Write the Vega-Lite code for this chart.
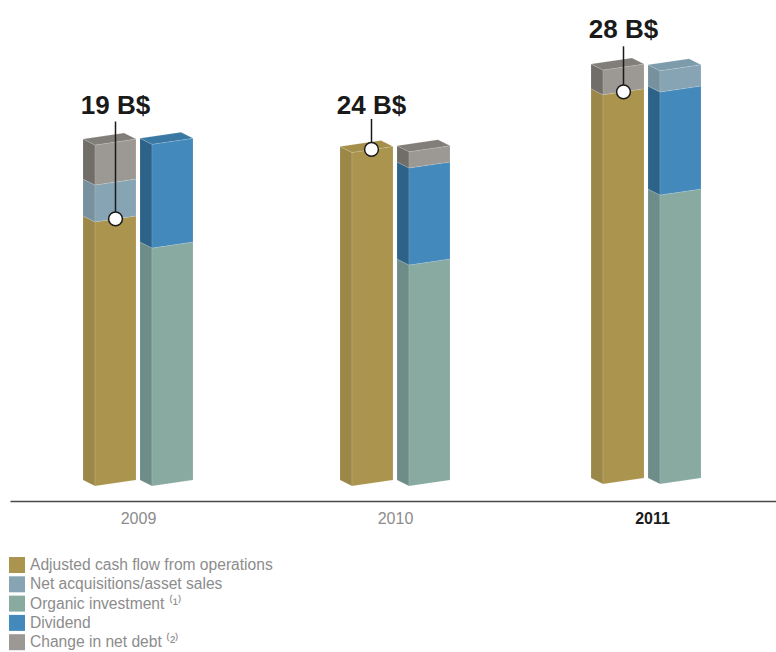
{
  "$schema": "https://vega.github.io/schema/vega-lite/v6.json",
  "width": 766,
  "height": 501,
  "padding": {"left": 10, "top": 0, "right": 0, "bottom": 151},
  "autosize": "none",
  "background": "white",
  "view": {"stroke": null},
  "config": {"font": "Liberation Sans"},
  "datasets": {
    "uses": [
      {"year": 2009, "col": "a", "segment": "Adjusted cash flow from operations", "start": 0, "end": 19},
      {"year": 2009, "col": "a", "segment": "Net acquisitions/asset sales", "start": 19, "end": 21.65},
      {"year": 2009, "col": "a", "segment": "Change in net debt ⁽²⁾", "start": 21.65, "end": 24.53},
      {"year": 2009, "col": "b", "segment": "Organic investment ⁽¹⁾", "start": 0, "end": 17.12},
      {"year": 2009, "col": "b", "segment": "Dividend", "start": 17.12, "end": 24.58},
      {"year": 2010, "col": "a", "segment": "Adjusted cash flow from operations", "start": 0, "end": 24},
      {"year": 2010, "col": "b", "segment": "Organic investment ⁽¹⁾", "start": 0, "end": 15.9},
      {"year": 2010, "col": "b", "segment": "Dividend", "start": 15.9, "end": 22.88},
      {"year": 2010, "col": "b", "segment": "Change in net debt ⁽²⁾", "start": 22.88, "end": 24.05},
      {"year": 2011, "col": "a", "segment": "Adjusted cash flow from operations", "start": 0, "end": 28},
      {"year": 2011, "col": "a", "segment": "Change in net debt ⁽²⁾", "start": 28, "end": 29.78},
      {"year": 2011, "col": "b", "segment": "Organic investment ⁽¹⁾", "start": 0, "end": 20.79},
      {"year": 2011, "col": "b", "segment": "Dividend", "start": 20.79, "end": 28.2},
      {"year": 2011, "col": "b", "segment": "Net acquisitions/asset sales", "start": 28.2, "end": 29.73}
    ],
    "totals": [
      {"year": 2009, "total": 19, "label": "19 B$"},
      {"year": 2010, "total": 24, "label": "24 B$"},
      {"year": 2011, "total": 28, "label": "28 B$"}
    ]
  },
  "data": {"name": "uses"},
  "transform": [
    {"calculate": "datum.year + (datum.year == 2011 ? -6 / 257 : 0) + (datum.col == 'a' ? -55 / 257 : 2 / 257)", "as": "L"},
    {"calculate": "datum.year == 2011 ? 2 / 13.9 : 0", "as": "lift"}
  ],
  "encoding": {
    "x": {
      "field": "x",
      "type": "quantitative",
      "scale": {"domain": [2008.50195, 2011.48249], "nice": false, "zero": false},
      "axis": {
        "title": null,
        "values": [2009, 2010, 2011],
        "format": "d",
        "grid": false,
        "ticks": false,
        "domainColor": "#4a4a4a",
        "domainWidth": 1.5,
        "labelPadding": 9,
        "labelFontSize": 16,
        "labelColor": {"condition": {"test": "datum.value == 2011", "value": "#1a1a1a"}, "value": "#8c8c8c"},
        "labelFontWeight": {"condition": {"test": "datum.value == 2011", "value": "bold"}, "value": "normal"}
      }
    },
    "y": {
      "field": "y",
      "type": "quantitative",
      "stack": null,
      "scale": {"domain": [-1.295, 34.748], "nice": false, "zero": false},
      "axis": null
    }
  },
  "layer": [
    {
      "description": "Left side face of each stacked segment",
      "transform": [
        {"calculate": "[0, 1]", "as": "t"},
        {"flatten": ["t"]},
        {"calculate": "datum.L + datum.t * 12 / 257", "as": "x"},
        {"calculate": "datum.end + datum.lift + (3 - 6 * datum.t) / 13.9", "as": "y"},
        {"calculate": "datum.start + datum.lift + (3 - 6 * datum.t) / 13.9", "as": "y2"}
      ],
      "mark": {"type": "area", "orient": "vertical", "stroke": "#ffffff", "strokeOpacity": 0.25, "strokeWidth": 0.5},
      "encoding": {
        "y2": {"field": "y2"},
        "detail": [{"field": "year"}, {"field": "col"}],
        "color": {
          "field": "segment",
          "type": "nominal",
          "legend": null,
          "scale": {
            "domain": ["Adjusted cash flow from operations", "Net acquisitions/asset sales", "Organic investment ⁽¹⁾", "Dividend", "Change in net debt ⁽²⁾"],
            "range": ["#9b8849", "#77919f", "#6f8d88", "#2d6289", "#716d69"]
          }
        }
      }
    },
    {
      "description": "Front face of each stacked segment",
      "transform": [
        {"calculate": "[0, 1]", "as": "t"},
        {"flatten": ["t"]},
        {"calculate": "datum.L + (12 + datum.t * 41) / 257", "as": "x"},
        {"calculate": "datum.end + datum.lift + (-3 + 6 * datum.t) / 13.9", "as": "y"},
        {"calculate": "datum.start + datum.lift + (-3 + 6 * datum.t) / 13.9", "as": "y2"}
      ],
      "mark": {"type": "area", "orient": "vertical", "stroke": "#ffffff", "strokeOpacity": 0.25, "strokeWidth": 0.5},
      "encoding": {
        "y2": {"field": "y2"},
        "detail": [{"field": "year"}, {"field": "col"}],
        "color": {
          "field": "segment",
          "type": "nominal",
          "scale": {
            "domain": ["Adjusted cash flow from operations", "Net acquisitions/asset sales", "Organic investment ⁽¹⁾", "Dividend", "Change in net debt ⁽²⁾"],
            "range": ["#ab944e", "#86a4b4", "#89aaa1", "#4489bc", "#9c9893"]
          },
          "legend": {
            "title": null,
            "orient": "none",
            "legendX": -1,
            "legendY": 557,
            "padding": 0,
            "symbolType": "square",
            "symbolSize": 256,
            "symbolStrokeWidth": 0,
            "rowPadding": 2.3,
            "labelFontSize": 15.6,
            "labelColor": "#8c8c8c",
            "labelOffset": 5,
            "labelLimit": 300
          }
        }
      }
    },
    {
      "description": "Top cap on the highest segment of each column",
      "transform": [
        {"joinaggregate": [{"op": "max", "field": "end", "as": "columnTop"}], "groupby": ["year", "col"]},
        {"filter": "datum.end == datum.columnTop"},
        {"calculate": "[0, 1, 2, 3]", "as": "t"},
        {"flatten": ["t"]},
        {"calculate": "datum.L + [0, 12, 41, 53][datum.t] / 257", "as": "x"},
        {"calculate": "datum.end + datum.lift + [3, 4.76, 9, 3][datum.t] / 13.9", "as": "y"},
        {"calculate": "datum.end + datum.lift + [3, -3, 1.24, 3][datum.t] / 13.9", "as": "y2"}
      ],
      "mark": {"type": "area", "orient": "vertical", "stroke": "#ffffff", "strokeOpacity": 0.25, "strokeWidth": 0.5},
      "encoding": {
        "y2": {"field": "y2"},
        "detail": [{"field": "year"}, {"field": "col"}],
        "color": {
          "field": "segment",
          "type": "nominal",
          "legend": null,
          "scale": {
            "domain": ["Adjusted cash flow from operations", "Net acquisitions/asset sales", "Organic investment ⁽¹⁾", "Dividend", "Change in net debt ⁽²⁾"],
            "range": ["#a48e4a", "#7d9cab", "#7f9f97", "#3a78a4", "#817d79"]
          }
        }
      }
    },
    {
      "description": "Leader, marker and callout for each year's cash flow total",
      "data": {"name": "totals"},
      "transform": [
        {"calculate": "datum.year + (datum.year == 2011 ? -6 / 257 : 0) - (datum.year == 2010 ? 23.5 : 22.5) / 257", "as": "x"},
        {"calculate": "datum.year == 2011 ? 2 / 13.9 : 0", "as": "lift"},
        {"calculate": "datum.total + datum.lift", "as": "y"},
        {"calculate": "datum.y + (datum.year == 2009 ? 97.4 : datum.year == 2010 ? 30.5 : 45.5) / 13.9", "as": "leaderTop"},
        {"calculate": "datum.leaderTop + (datum.year == 2009 ? 7 : datum.year == 2010 ? 4.5 : 8) / 13.9", "as": "labelY"}
      ],
      "layer": [
        {
          "mark": {"type": "rule", "color": "#1a1a1a", "strokeWidth": 1.5},
          "encoding": {"y2": {"field": "leaderTop"}}
        },
        {
          "mark": {"type": "point", "filled": true, "fill": "#ffffff", "stroke": "#1a1a1a", "strokeWidth": 1.5, "size": 190, "opacity": 1, "shape": "circle"},
          "encoding": {}
        },
        {
          "mark": {"type": "text", "fontSize": 26, "fontWeight": "bold", "color": "#1a1a1a", "align": "center", "baseline": "alphabetic"},
          "encoding": {
            "y": {"field": "labelY", "type": "quantitative", "stack": null},
            "text": {"field": "label"}
          }
        }
      ]
    }
  ],
  "resolve": {"scale": {"color": "independent"}}
}
